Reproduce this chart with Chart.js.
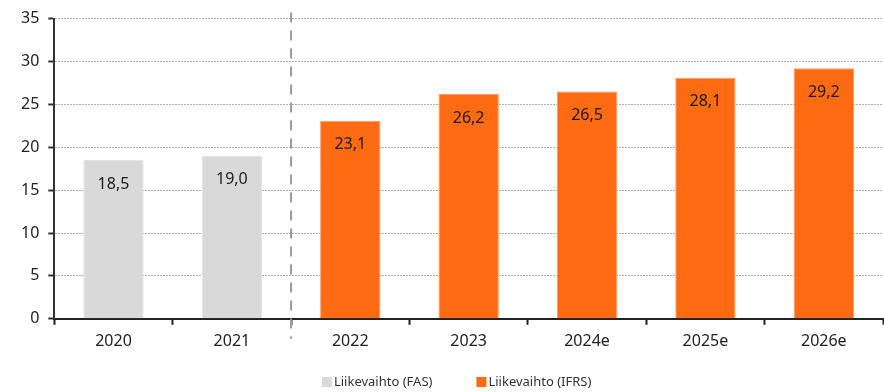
<!DOCTYPE html>
<html>
<head>
<meta charset="utf-8">
<script src="https://cdn.jsdelivr.net/npm/chart.js@4/dist/chart.umd.min.js"></script>
<style>
  body { margin: 0; background: #fff; }
  #wrap { width: 884px; height: 392px; position: relative; }
</style>
</head>
<body>
<div id="wrap"><canvas id="salesCanvas"></canvas></div>
<script>
// Revenue, MEUR
const years = ['2020', '2021', '2022', '2023', '2024e', '2025e', '2026e'];
const salesFAS = [18.5, 19.0, null, null, null, null, null];
const salesIFRS = [null, null, 23.1, 26.2, 26.5, 28.1, 29.2];

const FONT = "'Noto Sans', sans-serif";

// value labels inside the top of each bar, finnish decimal comma
const barLabels = {
  id: 'barLabels',
  afterDatasetsDraw(chart) {
    const ctx = chart.ctx;
    ctx.save();
    ctx.font = '16px ' + FONT;
    ctx.fillStyle = '#1a1a1a';
    ctx.textAlign = 'center';
    ctx.textBaseline = 'middle';
    chart.data.datasets.forEach((ds, di) => {
      chart.getDatasetMeta(di).data.forEach((bar, i) => {
        const v = ds.data[i];
        if (v == null) return;
        ctx.fillText(v.toFixed(1).replace('.', ','), bar.x, bar.y + 24);
      });
    });
    ctx.restore();
  }
};

// dashed separator between FAS and IFRS years
const divider = {
  id: 'divider',
  beforeDatasetsDraw(chart) {
    const x = chart.scales.x.getPixelForValue(1.5);
    const area = chart.chartArea;
    const ctx = chart.ctx;
    ctx.save();
    ctx.strokeStyle = '#9a9a9a';
    ctx.lineWidth = 2;
    ctx.setLineDash([10, 8]);
    ctx.beginPath();
    ctx.moveTo(x, area.top - 6);
    ctx.lineTo(x, area.bottom + 20);
    ctx.stroke();
    ctx.restore();
  }
};

// legend row under the axis, wider spacing than the built-in one
const bottomLegend = {
  id: 'bottomLegend',
  afterDraw(chart) {
    const ctx = chart.ctx;
    const area = chart.chartArea;
    const box = 10, gap = 2, spacing = 44;
    ctx.save();
    ctx.font = '13px ' + FONT;
    ctx.textBaseline = 'middle';
    const items = chart.data.datasets.map(ds => ({
      text: ds.label,
      color: ds.backgroundColor,
      w: box + gap + ctx.measureText(ds.label).width
    }));
    const total = items.reduce((s, it) => s + it.w, 0) + spacing * (items.length - 1);
    let x = (area.left + area.right) / 2 - 12 - total / 2;
    const y = 382;
    items.forEach(it => {
      ctx.fillStyle = it.color;
      ctx.fillRect(x, y - box / 2, box, box);
      ctx.fillStyle = '#333';
      ctx.fillText(it.text, x + box + gap, y);
      x += it.w + spacing;
    });
    ctx.restore();
  }
};

const ctx = document.getElementById('salesCanvas').getContext('2d');
new Chart(ctx, {
  type: 'bar',
  data: {
    labels: years,
    datasets: [
      {
        label: 'Liikevaihto (FAS)',
        data: salesFAS,
        backgroundColor: '#d9d9d9',
        borderColor: '#e4e4e4',
        borderWidth: 1,
        skipNull: true
      },
      {
        label: 'Liikevaihto (IFRS)',
        data: salesIFRS,
        backgroundColor: '#ff6b12',
        borderColor: '#ff9c66',
        borderWidth: 1,
        skipNull: true
      }
    ]
  },
  options: {
    responsive: true,
    maintainAspectRatio: false,
    animation: false,
    categoryPercentage: 0.51,
    barPercentage: 1,
    layout: { padding: { top: 13, right: 1, left: 12, bottom: 34 } },
    plugins: {
      tooltip: { enabled: false },
      legend: { display: false }
    },
    scales: {
      x: {
        grid: {
          offset: true,
          drawOnChartArea: false,
          tickLength: 6,
          tickColor: '#222',
          tickWidth: 2
        },
        border: { color: '#222', width: 2 },
        ticks: {
          font: { size: 16, family: FONT },
          color: '#222',
          padding: 7
        }
      },
      y: {
        min: 0,
        max: 35,
        ticks: {
          stepSize: 5,
          font: { size: 16, family: FONT },
          color: '#222',
          padding: 9
        },
        grid: {
          color: '#b0b0b0',
          lineWidth: 1,
          tickColor: '#333',
          tickLength: 6,
          tickWidth: 2
        },
        border: { color: '#333', width: 2, dash: [2, 1] }
      }
    }
  },
  plugins: [divider, barLabels, bottomLegend]
});
</script>
</body>
</html>
